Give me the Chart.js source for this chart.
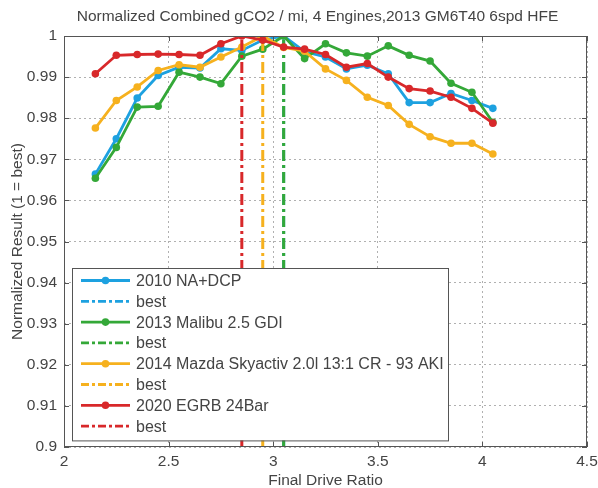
<!DOCTYPE html>
<html><head><meta charset="utf-8">
<script src="https://cdn.jsdelivr.net/npm/chart.js@4.4.1/dist/chart.umd.min.js"></script>
<style>html,body{margin:0;padding:0;background:#fff}</style>
</head><body>
<canvas id="c" width="598" height="488"></canvas>
<script>
// Final drive ratios swept for each engine
const ratios = [2.15, 2.25, 2.35, 2.45, 2.55, 2.65, 2.75, 2.85, 2.95, 3.05,
                3.15, 3.25, 3.35, 3.45, 3.55, 3.65, 3.75, 3.85, 3.95, 4.05];

// Normalized combined gCO2/mi (1 = best) per engine
const na2010 = [0.9664, 0.9750, 0.9849, 0.9904, 0.9924, 0.9922, 0.9969, 0.9965, 0.9990, 1.0000,
                0.9962, 0.9949, 0.9920, 0.9929, 0.9908, 0.9838, 0.9838, 0.9860, 0.9843, 0.9824];
const malibu2013 = [0.9654, 0.9729, 0.9827, 0.9829, 0.9912, 0.9900, 0.9884, 0.9951, 0.9968, 1.0000,
                    0.9945, 0.9981, 0.9959, 0.9951, 0.9976, 0.9953, 0.9939, 0.9885, 0.9863, 0.9790];
const mazda2014 = [0.9776, 0.9843, 0.9876, 0.9916, 0.9930, 0.9924, 0.9949, 0.9973, 1.0000, 0.9972,
                   0.9963, 0.9920, 0.9892, 0.9851, 0.9831, 0.9785, 0.9755, 0.9739, 0.9739, 0.9713];
const egrb2020 = [0.9908, 0.9953, 0.9955, 0.9956, 0.9955, 0.9953, 0.9981, 1.0000, 0.9990, 0.9973,
                  0.9968, 0.9955, 0.9924, 0.9933, 0.9900, 0.9872, 0.9866, 0.9851, 0.9824, 0.9788];

// Best final drive ratio for each engine
const bestRatios = [3.05, 3.05, 2.95, 2.85];

const seriesNames = ['2010 NA+DCP', '2013 Malibu 2.5 GDI',
                     '2014 Mazda Skyactiv 2.0l 13:1 CR - 93 AKI', '2020 EGRB 24Bar'];
const bestLabel = 'best';

const xTicks = [2, 2.5, 3, 3.5, 4, 4.5];
const xTickLabels = ['2', '2.5', '3', '3.5', '4', '4.5'];
const yTicks = [0.9, 0.91, 0.92, 0.93, 0.94, 0.95, 0.96, 0.97, 0.98, 0.99, 1];
const yTickLabels = ['0.9', '0.91', '0.92', '0.93', '0.94', '0.95', '0.96', '0.97', '0.98', '0.99', '1'];

const titleText = 'Normalized Combined gCO2 / mi, 4 Engines,2013 GM6T40 6spd HFE';
const xTitle = 'Final Drive Ratio';
const yTitle = 'Normalized Result (1 = best)';

const colors = ['#1DA1E0', '#34A838', '#F6B11E', '#D8282A'];
const FONT = 'Liberation Sans, Arial, sans-serif';
const TEXT = '#444444';
const FS = 15.5;

const allSeries = [na2010, malibu2013, mazda2014, egrb2020];
const datasets = [];
allSeries.forEach((vals, i) => {
  datasets.push({
    label: seriesNames[i],
    data: ratios.map((r, k) => ({ x: r, y: vals[k] })),
    borderColor: colors[i], backgroundColor: colors[i],
    borderWidth: 2.8, pointRadius: 3.8, pointHoverRadius: 3.8,
    pointBorderWidth: 0, tension: 0, order: 20 - 2 * i, isBest: false
  });
  datasets.push({
    label: bestLabel,
    data: [{ x: bestRatios[i], y: yTicks[0] }, { x: bestRatios[i], y: yTicks[yTicks.length - 1] }],
    borderColor: colors[i], backgroundColor: colors[i],
    borderWidth: 3, pointRadius: 0, borderDash: [11, 4, 3, 4],
    tension: 0, order: 19 - 2 * i, isBest: true
  });
});

// Box frame with inward tick marks on all four sides, plus the title
const framePlugin = {
  id: 'frame',
  afterDraw(chart) {
    const { ctx, chartArea: a, scales } = chart;
    ctx.save();
    ctx.strokeStyle = '#555';
    ctx.lineWidth = 1;
    ctx.setLineDash([]);
    ctx.strokeRect(a.left + 0.5, a.top + 0.5, a.right - a.left - 1, a.bottom - a.top - 1);
    const tl = 5;
    ctx.beginPath();
    xTicks.forEach(v => {
      const x = Math.round(scales.x.getPixelForValue(v)) + 0.5;
      ctx.moveTo(x, a.bottom); ctx.lineTo(x, a.bottom - tl);
      ctx.moveTo(x, a.top); ctx.lineTo(x, a.top + tl);
    });
    yTicks.forEach(v => {
      const y = Math.round(scales.y.getPixelForValue(v)) + 0.5;
      ctx.moveTo(a.left, y); ctx.lineTo(a.left + tl, y);
      ctx.moveTo(a.right, y); ctx.lineTo(a.right - tl, y);
    });
    ctx.stroke();

    ctx.fillStyle = TEXT;
    ctx.font = FS + 'px ' + FONT;
    ctx.textAlign = 'center';
    ctx.textBaseline = 'middle';
    ctx.fillText(titleText, (a.left + a.right) / 2 - 8, 17);
    ctx.restore();
  }
};

// Legend box inside the plot area, lower left
const legendPlugin = {
  id: 'boxLegend',
  afterDraw(chart) {
    const { ctx, chartArea: a } = chart;
    const ds = chart.data.datasets;
    const left = a.left + 8, top = 268, w = 376, rowH = 20.8;
    const h = rowH * ds.length + 6;
    ctx.save();
    ctx.fillStyle = '#ffffff';
    ctx.fillRect(left, top, w, h);
    ctx.strokeStyle = '#555';
    ctx.lineWidth = 1;
    ctx.strokeRect(left + 0.5, top + 0.5, w, h);
    ctx.font = '16px ' + FONT;
    ctx.textBaseline = 'middle';
    ctx.textAlign = 'left';
    ds.forEach((d, i) => {
      const y = top + 12.5 + i * rowH;
      const x0 = left + 9, x1 = left + 58;
      ctx.strokeStyle = d.borderColor;
      ctx.lineWidth = 2.8;
      ctx.setLineDash(d.isBest ? [8, 3, 3, 3] : []);
      ctx.beginPath(); ctx.moveTo(x0, y); ctx.lineTo(x1, y); ctx.stroke();
      ctx.setLineDash([]);
      if (!d.isBest) {
        ctx.fillStyle = d.borderColor;
        ctx.beginPath(); ctx.arc((x0 + x1) / 2, y, 3.8, 0, Math.PI * 2); ctx.fill();
      }
      ctx.fillStyle = TEXT;
      ctx.fillText(d.label, left + 64, y + 1);
    });
    ctx.restore();
  }
};

new Chart(document.getElementById('c'), {
  type: 'line',
  data: { datasets },
  options: {
    responsive: false,
    animation: false,
    layout: { padding: { top: 36, right: 11, left: 0, bottom: 0 } },
    plugins: { legend: { display: false }, title: { display: false }, tooltip: { enabled: false } },
    scales: {
      x: {
        type: 'linear', min: 2, max: 4.5,
        afterBuildTicks: s => { s.ticks = xTicks.map(v => ({ value: v })); },
        afterFit: s => { s.height = 41; s.paddingLeft = 0; s.paddingRight = 0; },
        ticks: {
          color: TEXT, font: { family: FONT, size: FS }, padding: 5,
          callback: (v) => xTickLabels[xTicks.indexOf(v)], maxRotation: 0, autoSkip: false
        },
        grid: { color: '#b0b0b0', lineWidth: 1, drawTicks: false },
        border: { display: false, dash: [2, 3] },
        title: { display: true, text: xTitle, color: TEXT, font: { family: FONT, size: FS, lineHeight: 1 }, padding: { top: 0, bottom: 0 } }
      },
      y: {
        type: 'linear', min: 0.9, max: 1,
        afterBuildTicks: s => { s.ticks = yTicks.map(v => ({ value: v })); },
        afterFit: s => { s.width = 64; s.paddingTop = 0; s.paddingBottom = 0; },
        ticks: {
          color: TEXT, font: { family: FONT, size: FS }, padding: 7,
          callback: (v) => yTickLabels[yTicks.findIndex(t => Math.abs(t - v) < 1e-9)], autoSkip: false
        },
        grid: { color: '#b0b0b0', lineWidth: 1, drawTicks: false },
        border: { display: false, dash: [2, 3] },
        title: { display: true, text: yTitle, color: TEXT, font: { family: FONT, size: FS }, padding: { top: 8, bottom: 0 } }
      }
    }
  },
  plugins: [framePlugin, legendPlugin]
});
</script>
</body></html>
